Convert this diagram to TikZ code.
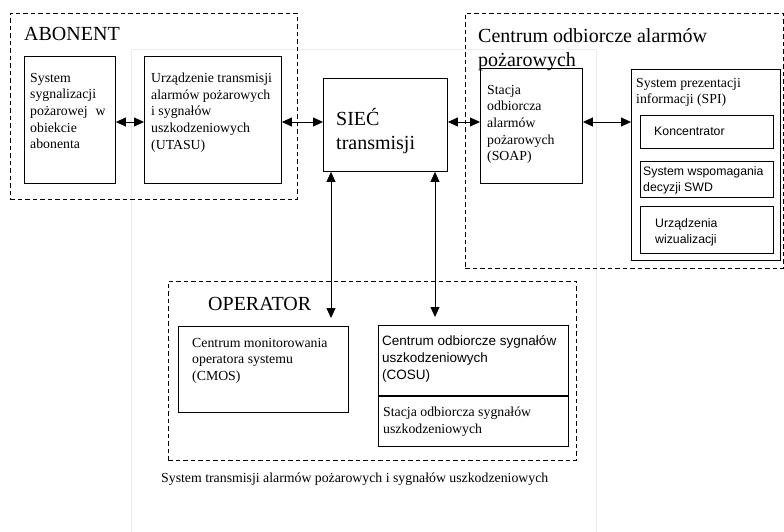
\documentclass[tikz,border=0pt]{standalone}
\usepackage{fontspec}
\setmainfont{Liberation Serif}
\setsansfont{Liberation Sans}
\usetikzlibrary{positioning, arrows.meta}
\tikzset{
  block/.style={rectangle, draw, line width=0.9pt, anchor=north west, inner sep=0pt},
  group/.style={rectangle, draw, line width=0.8pt, dash pattern=on 4.5pt off 3pt, anchor=north west, inner sep=0pt},
  txt/.style={anchor=north west, align=left, inner sep=0pt, font=\fontsize{13.8}{16.6}\selectfont},
  sanstxt/.style={anchor=north west, align=left, inner sep=0pt, font=\sffamily\fontsize{12.3}{16}\selectfont},
  big/.style={anchor=north west, align=left, inner sep=0pt, font=\fontsize{20}{24}\selectfont},
  arrow/.style={{Triangle[length=10pt,width=9pt]}-{Triangle[length=10pt,width=9pt]}, line width=0.8pt},
}

\begin{document}
\begin{tikzpicture}[x=1pt, y=-1pt]
  \useasboundingbox (0,0) rectangle (784,532);
  \draw[gray!15, line width=0.6pt] (131,49) rectangle (596,545);

  % Groups
  \node[group, minimum width=287pt, minimum height=186pt,
    label={[big, xshift=14pt, yshift=-14pt]north west:ABONENT}] (abonent) at (10,13) {};
  \node[group, minimum width=318pt, minimum height=255pt,
    label={[big, xshift=13pt, yshift=-15pt]north west:{Centrum odbiorcze alarmów\\pożarowych}}] (centrum) at (465,13) {};
  \node[group, minimum width=408pt, minimum height=179pt,
    label={[big, xshift=40pt, yshift=-16pt]north west:OPERATOR}] (operator) at (168,281) {};

  % Nodes
  \node[block, minimum width=91pt, minimum height=127pt,
    label={[txt, xshift=6pt, yshift=-17pt]north west:{System\\sygnalizacji\\pożarowej\hspace{8pt}w\\obiekcie\\abonenta}}] (ssp) at (24,56) {};
  \node[block, minimum width=137pt, minimum height=127pt,
    label={[txt, xshift=7pt, yshift=-17pt]north west:{Urządzenie transmisji\\alarmów pożarowych\\i sygnałów\\uszkodzeniowych\\(UTASU)}}] (utasu) at (144,56) {};
  \node[block, minimum width=124pt, minimum height=93pt,
    label={[big, xshift=13pt, yshift=-30pt]north west:{SIEĆ\\transmisji}}] (siec) at (323,78) {};
  \node[block, minimum width=102pt, minimum height=115pt,
    label={[txt, xshift=7pt, yshift=-17pt]north west:{Stacja\\odbiorcza\\alarmów\\pożarowych\\(SOAP)}}] (soap) at (480,68) {};

  \node[block, minimum width=149pt, minimum height=191pt,
    label={[txt, xshift=5pt, yshift=-9pt]north west:{System prezentacji\\informacji (SPI)}}] (spi) at (631,69) {};
  \node[block, minimum width=133pt, minimum height=33pt,
    label={[sanstxt, xshift=14pt, yshift=-12pt]north west:Koncentrator}] (konc) at (640,115) {};
  \node[block, minimum width=133pt, minimum height=36pt,
    label={[sanstxt, xshift=3pt, yshift=-5pt]north west:{System wspomagania\\decyzji SWD}}] (swd) at (640,161) {};
  \node[block, minimum width=133pt, minimum height=47pt,
    label={[sanstxt, xshift=15pt, yshift=-12pt]north west:{Urządzenia\\wizualizacji}}] (wiz) at (640,206) {};

  \node[block, minimum width=170pt, minimum height=86pt,
    label={[txt, xshift=14pt, yshift=-12pt]north west:{Centrum monitorowania\\operatora systemu\\(CMOS)}}] (cmos) at (178,326) {};
  \node[block, minimum width=190pt, minimum height=70pt,
    label={[sanstxt, font=\sffamily\fontsize{13.5}{17}\selectfont, xshift=4pt, yshift=-10pt]north west:{Centrum odbiorcze sygnałów\\uszkodzeniowych\\(COSU)}}] (cosu) at (378,325) {};
  \node[block, minimum width=190pt, minimum height=50pt,
    label={[txt, xshift=5pt, yshift=-11pt]north west:{Stacja odbiorcza sygnałów\\uszkodzeniowych}}] (sosu) at (cosu.south west) {};

  \node[txt] (caption) at (161,473) {System transmisji alarmów pożarowych i sygnałów uszkodzeniowych};

  % Connections
  \coordinate (row) at (0,122);
  \coordinate (op1) at (331,318);
  \coordinate (op2) at (435,317);
  \draw[arrow] (ssp.east |- row) -- (utasu.west |- row);
  \draw[arrow] (utasu.east |- row) -- (siec.west |- row);
  \draw[arrow] (siec.east |- row) -- (soap.west |- row);
  \draw[arrow] (soap.east |- row) -- (spi.west |- row);
  \draw[arrow] (siec.south -| op1) -- (op1);
  \draw[arrow] (siec.south -| op2) -- (op2);
\end{tikzpicture}
\end{document}
